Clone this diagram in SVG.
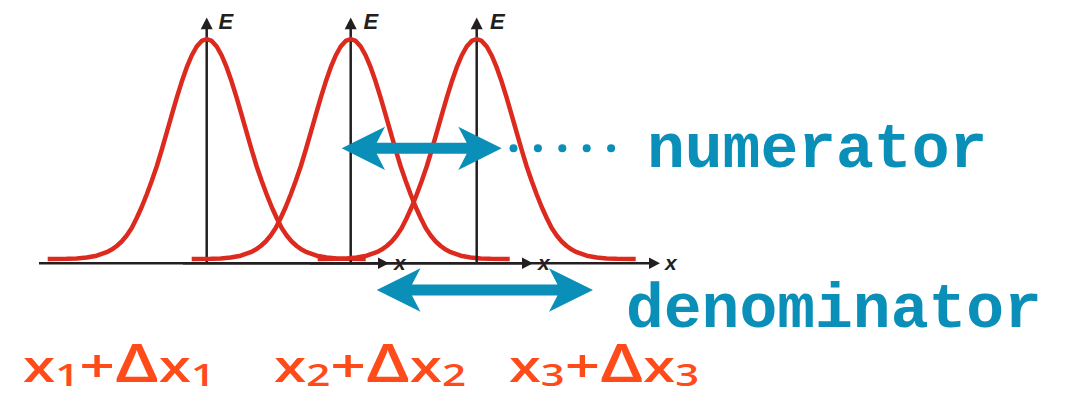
<svg xmlns="http://www.w3.org/2000/svg" width="1069" height="395" viewBox="0 0 1069 395">
<style>
.curve{fill:none;stroke:#dc2a1f;stroke-width:4.5;stroke-linejoin:round;stroke-linecap:butt}
.axis{fill:none;stroke:#231f20;stroke-width:2.5}
.ahead{fill:#231f20}
.axlbl{font-family:"Liberation Sans",Arial,sans-serif;font-weight:bold;font-style:italic;fill:#231f20}
.blue{fill:#0a8fb8}
.word{font-family:"Liberation Mono","Courier New",monospace;font-weight:bold;font-size:63px;fill:#0a8fb8}
.red{font-family:"Open Sans","DejaVu Sans",sans-serif;font-weight:600;font-size:43px;fill:#ff4b19}
</style>
<defs>
<path id="g" class="curve" d="M-159,259 L-140,258.8 L-130,258.4 L-120,257.5 L-110,255.7 L-100,252.2 L-95,249.6 L-90,246 L-85,241.5 L-80,235.5 L-75,228 L-70,218 L-65,207 L-60,194.5 L-55,181 L-50,166.5 L-45,150 L-40,132.6 L-35,115.1 L-30,97.9 L-25,81.8 L-20,67.4 L-15,55.5 L-10,46.5 L-5,40.9 L0,39 L5,40.9 L10,46.5 L15,55.5 L20,67.4 L25,81.8 L30,97.9 L35,115.1 L40,132.6 L45,150 L50,166.5 L55,181 L60,194.5 L65,207 L70,218 L75,228 L80,235.5 L85,241.5 L90,246 L95,249.6 L100,252.2 L110,255.7 L120,257.5 L130,258.4 L140,258.8 L159,259"/>
</defs>

<g id="plot1">
<line class="axis" x1="39" y1="263.3" x2="380" y2="263.3"/>
<polygon class="ahead" points="389,263.3 378,257.6 378,269"/>
<text class="axlbl" x="394" y="269.5" font-size="21">x</text>
<line class="axis" x1="206.7" y1="263.3" x2="206.7" y2="27"/>
<polygon class="ahead" points="206.7,17.5 200.7,29.3 212.7,29.3"/>
<text class="axlbl" x="218.5" y="28.5" font-size="22">E</text>
<use href="#g" x="206.7"/>
</g>

<g id="plot2">
<line class="axis" x1="183" y1="263.3" x2="524" y2="263.3"/>
<polygon class="ahead" points="533,263.3 522,257.6 522,269"/>
<text class="axlbl" x="538" y="269.5" font-size="21">x</text>
<line class="axis" x1="350.7" y1="263.3" x2="350.7" y2="27"/>
<polygon class="ahead" points="350.7,17.5 344.7,29.3 356.7,29.3"/>
<text class="axlbl" x="363.5" y="28.5" font-size="22">E</text>
<use href="#g" x="350.7"/>
</g>

<g id="plot3">
<line class="axis" x1="310" y1="263.3" x2="651" y2="263.3"/>
<polygon class="ahead" points="660,263.3 649,257.6 649,269"/>
<text class="axlbl" x="665" y="269.5" font-size="21">x</text>
<line class="axis" x1="476.7" y1="263.3" x2="476.7" y2="27"/>
<polygon class="ahead" points="476.7,17.5 470.7,29.3 482.7,29.3"/>
<text class="axlbl" x="490" y="28.5" font-size="22">E</text>
<use href="#g" x="476.7"/>
</g>

<g id="connectors">
<polygon id="numerator-arrow" class="blue" points="341.7,148.3 385,126.7 376.7,142.8 466.7,142.8 458.3,126.7 501.7,148.3 458.3,170 466.7,153.8 376.7,153.8 385,170"/>
<g id="dots" class="blue">
<circle cx="513.5" cy="148.3" r="4"/>
<circle cx="537.9" cy="148.3" r="4"/>
<circle cx="562.3" cy="148.3" r="4"/>
<circle cx="586.7" cy="148.3" r="4"/>
<circle cx="611.1" cy="148.3" r="4"/>
</g>
<polygon id="denominator-arrow" class="blue" points="376.7,290 420.5,268.3 412,284.5 557.5,284.5 549,268.3 593,290 549,311.7 557.5,295.5 412,295.5 420.5,311.7"/>
</g>

<g id="numerator">
<text class="word" x="647" y="166.7">numerator</text>
</g>
<g id="denominator">
<text class="word" x="626" y="326.7">denominator</text>
</g>

<g id="label1">
<text class="red" x="23" y="382" textLength="192" lengthAdjust="spacingAndGlyphs">x<tspan font-size="31" dy="4">1</tspan><tspan font-size="46" dy="-4">+</tspan><tspan font-size="52">Δ</tspan>x<tspan font-size="31" dy="4">1</tspan></text>
</g>
<g id="label2">
<text class="red" x="274" y="382" textLength="192" lengthAdjust="spacingAndGlyphs">x<tspan font-size="31" dy="4">2</tspan><tspan font-size="46" dy="-4">+</tspan><tspan font-size="52">Δ</tspan>x<tspan font-size="31" dy="4">2</tspan></text>
</g>
<g id="label3">
<text class="red" x="509" y="382" textLength="190" lengthAdjust="spacingAndGlyphs">x<tspan font-size="31" dy="4">3</tspan><tspan font-size="46" dy="-4">+</tspan><tspan font-size="52">Δ</tspan>x<tspan font-size="31" dy="4">3</tspan></text>
</g>
</svg>
